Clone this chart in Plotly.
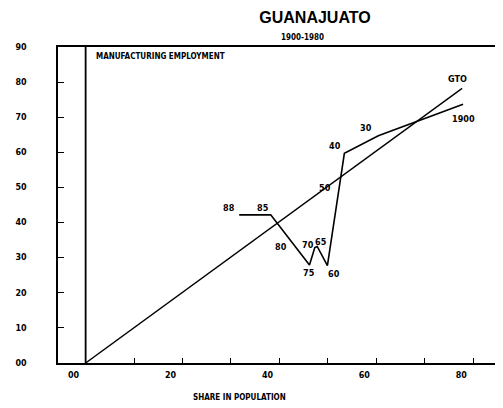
import plotly.graph_objects as go

# Path of Guanajuato (share in population vs share in manufacturing employment)
years = ["1900", "30", "40", "50", "60", "65", "70", "75", "80", "85", "88"]
pop_share = [77.9, 60.4, 53.4, 52.3, 49.9, 47.8, 47.3, 46.2, 43.2, 38.2, 31.7]
emp_share = [73.7, 64.7, 59.7, 49.3, 27.7, 33.2, 32.9, 27.9, 33.2, 42.2, 42.2]
# label offsets (px) for each year label
label_dx = [0, -12, -9, -14, 7, 4, -7, 0, -14, -8, -10]
label_dy = [-15, 8, 7, 2, -8, 4, 2, -8, -1, 7, 7]

# reference (equality) line labelled GTO
ref_x = [0, 77.7]
ref_y = [0, 78.2]

# axis ticks
x_tickvals = [0, 20, 40, 60, 80]
x_ticktext = ["00", "20", "40", "60", "80"]
y_tickvals = [0, 10, 20, 30, 40, 50, 60, 70, 80, 90]
y_ticktext = ["00", "10", "20", "30", "40", "50", "60", "70", "80", "90"]

LBL = "Liberation Sans Narrow, DejaVu Sans Condensed, Arial Narrow, sans-serif"

fig = go.Figure()
fig.add_trace(go.Scatter(x=ref_x, y=ref_y, mode="lines",
                         line=dict(color="black", width=1.4), hoverinfo="skip"))
fig.add_trace(go.Scatter(x=pop_share, y=emp_share, mode="lines",
                         line=dict(color="black", width=1.6), hoverinfo="skip"))
# vertical line at zero share
fig.add_trace(go.Scatter(x=[0, 0], y=[0, 90], mode="lines",
                         line=dict(color="black", width=1.8), hoverinfo="skip"))

annotations = []
for yr, xv, yv, dx, dy in zip(years, pop_share, emp_share, label_dx, label_dy):
    annotations.append(dict(x=xv, y=yv, xref="x", yref="y", text=yr, showarrow=False,
                            xshift=dx, yshift=dy,
                            font=dict(family=LBL, size=9, color="black", weight="bold")))
annotations.append(dict(x=ref_x[-1], y=ref_y[-1], xref="x", yref="y", text="GTO",
                        showarrow=False, xshift=-5, yshift=9,
                        font=dict(family=LBL, size=9, color="black", weight="bold")))
annotations.append(dict(x=0.082, y=0.9715, xref="paper", yref="paper",
                        text="MANUFACTURING EMPLOYMENT", showarrow=False,
                        xanchor="left", yanchor="middle",
                        font=dict(family=LBL, size=8, color="black", weight="bold")))
annotations.append(dict(x=0.556, y=1.030, xref="paper", yref="paper",
                        text="1900-1980", showarrow=False, yanchor="middle",
                        font=dict(family=LBL, size=8, color="black", weight="bold")))
annotations.append(dict(x=0.303, y=-0.1076, xref="paper", yref="paper",
                        text="SHARE IN POPULATION", showarrow=False, yanchor="middle",
                        font=dict(family=LBL, size=8, color="black", weight="bold")))

# the page body adds an 8px margin, so the figure is 8px smaller than the window
W, H = 495, 400
fig.update_layout(
    width=W, height=H,
    margin=dict(l=50, r=6, t=39, b=45, autoexpand=False),
    paper_bgcolor="white", plot_bgcolor="white",
    showlegend=False,
    title=dict(text="<b>GUANAJUATO</b>", x=307 / W, xref="container", xanchor="center",
               y=1 - 9 / H, yref="container", yanchor="middle",
               font=dict(family="Liberation Sans, Arial, sans-serif", size=16, color="black")),
    annotations=annotations,
)
fig.update_xaxes(range=[-5.7, 84.9], showgrid=False, zeroline=False, automargin=False,
                 showline=True, linecolor="black", linewidth=1.5, mirror=True,
                 tickvals=x_tickvals, ticktext=x_ticktext,
                 ticks="inside", ticklen=5, tickcolor="black", tickwidth=1,
                 minor=dict(dtick=10, ticks="inside", ticklen=5, tickcolor="black", tickwidth=1),
                 ticklabelshift=-12, ticklabelstandoff=4,
                 tickfont=dict(family="DejaVu Sans, sans-serif", size=8, color="black", weight="bold"))
fig.update_yaxes(range=[0, 90], showgrid=False, zeroline=False, automargin=False,
                 showline=True, linecolor="black", linewidth=1.5, mirror=True,
                 tickvals=y_tickvals, ticktext=y_ticktext,
                 ticks="inside", ticklen=6, tickcolor="black", tickwidth=1,
                 ticklabelstandoff=28,
                 tickfont=dict(family="DejaVu Sans, sans-serif", size=8, color="black", weight="bold"))

fig.write_html("out.html")
